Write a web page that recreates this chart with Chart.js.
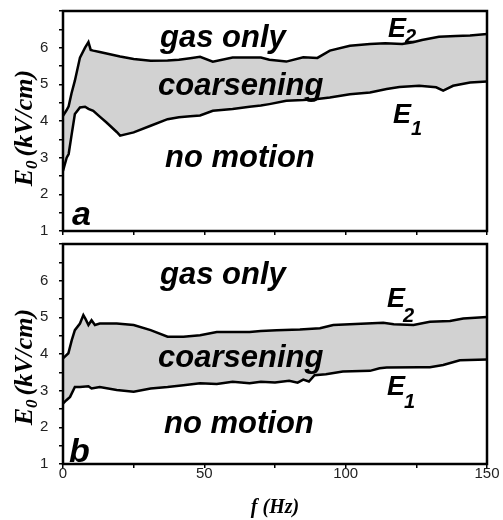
<!DOCTYPE html>
<html><head><meta charset="utf-8">
<script src="https://cdn.jsdelivr.net/npm/chart.js@4.4.1/dist/chart.umd.min.js"></script>
<style>
html,body{margin:0;padding:0;background:#fff;}
#wrap{position:relative;width:503px;height:520px;overflow:hidden;}
.pane{position:absolute;left:0;}
</style></head><body>
<div id="wrap">
  <div class="pane" style="top:0;width:503px;height:240px"><canvas id="c1" width="503" height="240"></canvas></div>
  <div class="pane" style="top:240px;width:503px;height:280px"><canvas id="c2" width="503" height="280"></canvas></div>
</div>
<script>
// ---- data (panel a) ----
const fA2 = [0,1.3,2,3,4.2,6,7.8,9,9.8,10.7,13,15.4,19,20.2,25,31,37,41,45,48.5,53,60,66,70,73,79,85,90,94.4,101.5,108.6,114,120,123.8,127,133,139,144,150];
const eA2 = [4.14,4.3,4.4,4.75,5.1,5.73,6.0,6.15,5.94,5.92,5.88,5.84,5.78,5.76,5.69,5.64,5.65,5.67,5.71,5.75,5.62,5.73,5.73,5.73,5.67,5.62,5.74,5.72,5.92,6.05,6.1,6.12,6.1,6.15,6.21,6.3,6.32,6.33,6.37];
const fA1 = [0,1.3,2,3,4.2,6,7.8,9,10.7,13,15.4,19,20.2,25,31,37,41,45,48.5,53,60,66,70,73,79,85,90,94.4,101.5,108.6,114.5,119,126,132,134.5,138,144,150];
const eA1 = [2.64,3.0,3.1,3.6,4.19,4.37,4.39,4.33,4.28,4.12,3.96,3.7,3.6,3.69,3.87,4.05,4.1,4.13,4.15,4.28,4.33,4.39,4.42,4.46,4.55,4.57,4.6,4.64,4.73,4.78,4.87,4.93,4.96,4.92,4.83,4.96,5.05,5.08];
// ---- data (panel b) ----
const fB2 = [0,1.9,3.1,4.2,6,7.2,8,9,10.1,11.3,13,19,25,31,37,42.6,48.5,54.4,60,66,70,75.6,83.8,90.9,95.6,107.4,113.3,117,124,129.8,136.9,141.6,150];
const eB2 = [3.88,4.02,4.38,4.65,4.83,5.06,4.95,4.79,4.92,4.79,4.83,4.83,4.79,4.65,4.47,4.47,4.51,4.6,4.6,4.6,4.63,4.65,4.67,4.7,4.79,4.83,4.85,4.81,4.79,4.88,4.9,4.97,5.01];
const fB1 = [0,1.2,2.5,4.2,6,9,10.1,13,19,25,31,37,42.6,48.5,54.4,60,66,70,75,80,83,85,87,89,93,99,108.6,112,114.5,126,129.8,134.5,140.4,150];
const eB1 = [2.65,2.74,2.83,3.1,3.1,3.12,3.06,3.1,3.02,2.97,3.06,3.1,3.15,3.2,3.18,3.24,3.2,3.24,3.22,3.27,3.22,3.3,3.25,3.42,3.45,3.52,3.54,3.61,3.63,3.64,3.64,3.7,3.83,3.85];
// ---- axis ticks & labels ----
const xTickLabels = [0,50,100,150];
const yTickLabels = [1,2,3,4,5,6];
const regionLabels = ['gas only','coarsening','no motion'];
const panelLabels = ['a','b'];
const xTitle = 'f (Hz)';

const pts = (fs, es) => fs.map((f,i)=>({x:f,y:es[i]}));

const SANS = '"Liberation Sans", Arial, Helvetica, sans-serif';
const SERIF = '"Liberation Serif", "Times New Roman", serif';

function boxPlugin(id){
  return {id:id, afterDatasetsDraw(chart){
    const a = chart.chartArea, ctx = chart.ctx;
    ctx.save(); ctx.strokeStyle='#000'; ctx.lineWidth=2.5;
    ctx.strokeRect(a.left, a.top, a.right-a.left, a.bottom-a.top);
    ctx.restore();
  }};
}

function textPlugin(id, labels, ytitleY){
  return {id:id, afterDraw(chart){
    const ctx = chart.ctx;
    ctx.save();
    ctx.fillStyle = '#000';
    ctx.textBaseline = 'alphabetic';
    ctx.textAlign = 'left';
    labels.forEach(l=>{
      ctx.font = 'italic bold '+l.size+'px '+SANS;
      ctx.fillText(l.t, l.x, l.y);
    });
    // y axis title E0 (kV/cm)
    ctx.translate(32, ytitleY);
    ctx.rotate(-Math.PI/2);
    const bigF = 'italic bold 26px '+SERIF, smallF = 'italic bold 17px '+SERIF;
    ctx.font = bigF; const wE = ctx.measureText('E').width;
    const rest = '(kV/cm)';
    const wR = ctx.measureText(rest).width;
    ctx.font = smallF; const w0 = ctx.measureText('0').width;
    const total = wE + w0 + 4 + wR;
    let x = -total/2;
    ctx.font = bigF; ctx.fillText('E', x, 0); x += wE;
    ctx.font = smallF; ctx.fillText('0', x, 5); x += w0 + 4;
    ctx.font = bigF; ctx.fillText(rest, x, 0);
    ctx.restore();
  }};
}

function scales(showX, xHeight){
  return {
    x:{type:'linear', min:0, max:150, position:'bottom',
      border:{display:false},
      grid:{drawOnChartArea:false, drawTicks:true, tickLength:4, color:'#000', lineWidth:1.5},
      ticks:{display:showX, stepSize:25, autoSkip:false, maxRotation:0, padding:-3, color:'#222',
        font:{family:SANS, size:15},
        callback:v=> xTickLabels.includes(v) ? String(v) : ''},
      title: showX ? {display:true, text:xTitle, color:'#000', padding:{top:0,bottom:0},
        font:{family:SERIF, size:20, style:'italic', weight:'bold'}} : {display:false},
      afterFit:s=>{s.height = xHeight;}
    },
    y:{type:'linear', min:1, max:7,
      border:{display:false},
      grid:{drawOnChartArea:false, drawTicks:true, tickLength:4, color:'#000', lineWidth:1.5},
      ticks:{stepSize:0.5, autoSkip:false, padding:0, crossAlign:'far', color:'#222',
        font:{family:SANS, size:15, lineHeight:0.5},
        callback:v=> yTickLabels.includes(v) ? String(v) : ''},
      afterFit:s=>{s.width = 23;}
    }
  };
}

function datasets(f1,e1,f2,e2){
  return [
    {data:pts(f1,e1), borderColor:'#000', borderWidth:2.5, pointRadius:0, tension:0, fill:false},
    {data:pts(f2,e2), borderColor:'#000', borderWidth:2.5, pointRadius:0, tension:0,
      fill:'-1', backgroundColor:'#d2d2d2'}
  ];
}

const common = {responsive:false, animation:false, devicePixelRatio:1,
  plugins:{legend:{display:false}, tooltip:{enabled:false}}};

new Chart(document.getElementById('c1'), {
  type:'line',
  data:{datasets:datasets(fA1,eA1,fA2,eA2)},
  options:Object.assign({}, common, {
    layout:{padding:{top:11,right:16,left:40,bottom:0}},
    scales:scales(false, 9)
  }),
  plugins:[boxPlugin('boxA'), textPlugin('txtA', [
    {t:regionLabels[0], x:160, y:47, size:31},
    {t:regionLabels[1], x:158, y:95, size:31},
    {t:regionLabels[2], x:165, y:167, size:31},
    {t:'E', x:388, y:37, size:27},
    {t:'2', x:405, y:43, size:20},
    {t:'E', x:393, y:123, size:27},
    {t:'1', x:411, y:135, size:20},
    {t:panelLabels[0], x:72, y:225, size:34}
  ], 128)]
});

new Chart(document.getElementById('c2'), {
  type:'line',
  data:{datasets:datasets(fB1,eB1,fB2,eB2)},
  options:Object.assign({}, common, {
    layout:{padding:{top:4,right:16,left:40,bottom:0}},
    scales:scales(true, 56)
  }),
  plugins:[boxPlugin('boxB'), textPlugin('txtB', [
    {t:regionLabels[0], x:160, y:44, size:31},
    {t:regionLabels[1], x:158, y:127, size:31},
    {t:regionLabels[2], x:164, y:193, size:31},
    {t:'E', x:387, y:67, size:27},
    {t:'2', x:403, y:82, size:20},
    {t:'E', x:387, y:155, size:27},
    {t:'1', x:404, y:168, size:20},
    {t:panelLabels[1], x:69, y:222, size:34}
  ], 127)]
});
</script>
</body></html>
